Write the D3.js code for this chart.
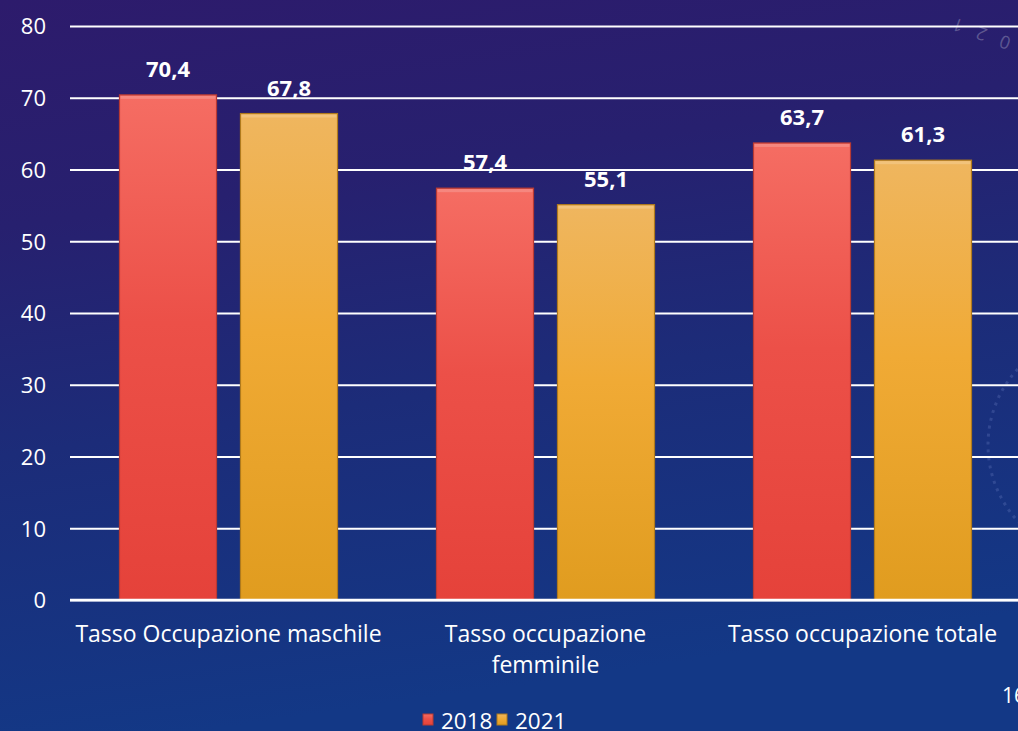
<!DOCTYPE html>
<html><head><meta charset="utf-8">
<script src="https://cdn.jsdelivr.net/npm/d3@7"></script>
<style>
html,body{margin:0;padding:0;background:#1b2a78;overflow:hidden;}
svg{display:block;}
text{font-family:"Open Sans",Lato,sans-serif;fill:#ffffff;}
</style></head>
<body>
<script>
const categories = [["Tasso Occupazione maschile"], ["Tasso occupazione", "femminile"], ["Tasso occupazione totale"]];
const seriesNames = ["2018", "2021"];
const values2018 = [70.4, 57.4, 63.7];
const values2021 = [67.8, 55.1, 61.3];
const yTicks = [0, 10, 20, 30, 40, 50, 60, 70, 80];

const W = 1018, H = 731;
const svg = d3.select("body").append("svg").attr("width", W).attr("height", H);
const defs = svg.append("defs");

const bg = defs.append("linearGradient").attr("id","bg").attr("x1",0).attr("y1",0).attr("x2",0.2).attr("y2",1);
[["0%","#2d1b6c"],["30%","#27206f"],["60%","#1c2c79"],["100%","#133886"]].forEach(s=>bg.append("stop").attr("offset",s[0]).attr("stop-color",s[1]));
svg.append("rect").attr("width",W).attr("height",H).attr("fill","url(#bg)");

// decorative faint dotted arc on right
svg.append("circle").attr("cx",1100).attr("cy",445).attr("r",112)
  .attr("fill","none").attr("stroke","#6a7fc0").attr("stroke-opacity",0.3)
  .attr("stroke-width",3).attr("stroke-dasharray","3,5");
svg.append("text").attr("transform","translate(1012,38) rotate(200)")
  .style("font-size","18px").attr("fill-opacity",0.25).style("letter-spacing","5px").text("0 2 1");

const grads = [["red","#f56d63","#ec5048","#e5423a"],["org","#efb65f","#f0aa35","#e09c1f"]];
grads.forEach(g=>{
  const lg = defs.append("linearGradient").attr("id",g[0]).attr("x1",0).attr("y1",0).attr("x2",0).attr("y2",1);
  lg.append("stop").attr("offset","0%").attr("stop-color",g[1]);
  lg.append("stop").attr("offset","45%").attr("stop-color",g[2]);
  lg.append("stop").attr("offset","100%").attr("stop-color",g[3]);
});
const fills = ["url(#red)","url(#org)"];
const strokes = ["#b83a33","#b07a1c"];

const x0 = d3.scaleBand().domain(d3.range(categories.length)).range([70, 1021]).paddingInner(0).paddingOuter(0);
const x1 = d3.scaleBand().domain(seriesNames).range([0, x0.bandwidth()]).paddingInner(0.198).paddingOuter(0.409);
const y = d3.scaleLinear().domain([0, 80]).range([600, 26]);

const fmt = d3.formatLocale({decimal:",", thousands:".", grouping:[3], currency:["€",""]}).format(".1f");

// gridlines
const grid = svg.append("g").attr("transform","translate(70,0)")
  .call(d3.axisLeft(y).tickValues(yTicks).tickSize(-(W-70)).tickFormat(""));
grid.select(".domain").remove();
grid.selectAll(".tick line").attr("stroke","#ffffff").attr("stroke-width",2);

// y labels
const yAx = svg.append("g").attr("transform","translate(46,0)")
  .call(d3.axisLeft(y).tickValues(yTicks).tickSize(0).tickPadding(0));
yAx.select(".domain").remove();
yAx.selectAll("text").attr("fill","#fff").style("font-size","22px").style("font-family","'Open Sans',sans-serif").attr("dy","0.36em");

const data = categories.map((c,i)=>({i, vals:[values2018[i], values2021[i]]}));
const groups = svg.append("g").selectAll("g").data(data).join("g")
  .attr("transform", d=>`translate(${x0(d.i)},0)`);

groups.selectAll("rect.bar").data(d=>d.vals.map((v,k)=>({v,k}))).join("rect")
  .attr("class","bar")
  .attr("x", d=>x1(seriesNames[d.k]))
  .attr("y", d=>y(d.v))
  .attr("width", x1.bandwidth())
  .attr("height", d=>y(0)-y(d.v))
  .attr("fill", d=>fills[d.k])
  .attr("stroke", d=>strokes[d.k]).attr("stroke-width",1.2);

groups.selectAll("rect.hl").data(d=>d.vals.map((v,k)=>({v,k}))).join("rect")
  .attr("class","hl")
  .attr("x", d=>x1(seriesNames[d.k])+1)
  .attr("y", d=>y(d.v)+1)
  .attr("width", x1.bandwidth()-2)
  .attr("height", 3)
  .attr("fill","#ffffff").attr("fill-opacity",0.18);

groups.selectAll("text.val").data(d=>d.vals.map((v,k)=>({v,k}))).join("text")
  .attr("class","val")
  .attr("x", d=>x1(seriesNames[d.k])+x1.bandwidth()/2)
  .attr("y", d=>y(d.v)-18)
  .attr("text-anchor","middle")
  .style("font-size","22px").style("font-weight","bold")
  .text(d=>fmt(d.v));

// baseline
svg.append("line").attr("x1",70).attr("x2",W).attr("y1",y(0)).attr("y2",y(0))
  .attr("stroke","#ffffff").attr("stroke-width",2.5);

// category labels
groups.each(function(d){
  const t = d3.select(this).append("text")
    .attr("x", x0.bandwidth()/2).attr("y", 642)
    .attr("text-anchor","middle").style("font-size","23px");
  categories[d.i].forEach((line,li)=>{
    t.append("tspan").attr("x", x0.bandwidth()/2).attr("dy", li===0?0:31).text(line);
  });
});

// legend
const legend = svg.append("g");
const lx = [423, 497];
seriesNames.forEach((s,k)=>{
  legend.append("rect").attr("x",lx[k]).attr("y",714).attr("width",10).attr("height",11)
    .attr("fill",fills[k]).attr("stroke",strokes[k]).attr("stroke-width",1);
  legend.append("text").attr("x",lx[k]+18).attr("y",729).style("font-size","22.5px").text(s);
});

// page number (partially visible)
svg.append("text").attr("x",1002).attr("y",703).style("font-size","21px").text("16");
</script>
</body></html>
